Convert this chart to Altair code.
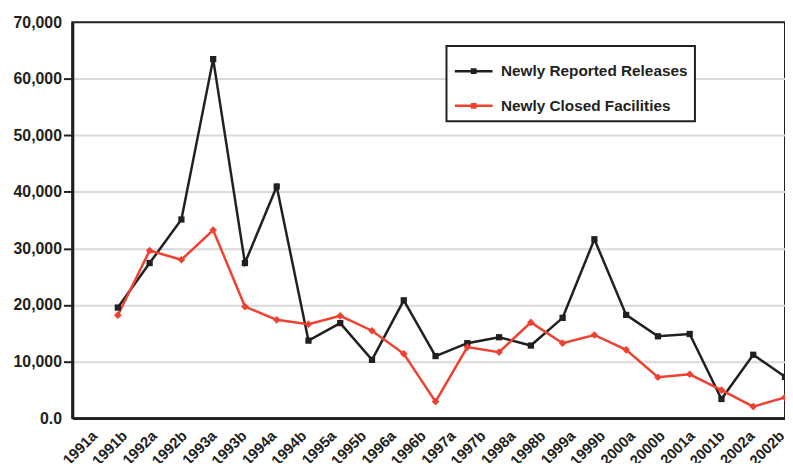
import altair as alt
import pandas as pd

# ---- data ----
periods = ["1991a", "1991b", "1992a", "1992b", "1993a", "1993b", "1994a", "1994b",
           "1995a", "1995b", "1996a", "1996b", "1997a", "1997b", "1998a", "1998b",
           "1999a", "1999b", "2000a", "2000b", "2001a", "2001b", "2002a", "2002b"]
point_index = list(range(22))
reported = [19550, 27420, 35120, 63470, 27420, 40950, 13700, 16800, 10300, 20830, 10970,
            13250, 14300, 12830, 17730, 31620, 18250, 14470, 14880, 3380, 11200, 7300]
closed = [18200, 29630, 28000, 33250, 19720, 17380, 16600, 18080, 15450, 11370, 2920,
          12550, 11670, 16920, 13250, 14700, 12080, 7230, 7750, 4950, 2040, 3670]
series_names = ["Newly Reported Releases", "Newly Closed Facilities"]
series_colors = ["#231f20", "#ef4130"]
y_ticks = [0, 10000, 20000, 30000, 40000, 50000, 60000, 70000]

FONT = "Liberation Sans, Arial, Helvetica, sans-serif"
DARK = "#231f20"

rows = []
for i, v in zip(point_index, reported):
    rows.append({"idx": i, "value": v, "series": series_names[0]})
for i, v in zip(point_index, closed):
    rows.append({"idx": i, "value": v, "series": series_names[1]})
df = pd.DataFrame(rows)

# In the source the period labels are spaced slightly tighter than the data points
# (24 labels across the span of 22 points); place them on the point axis accordingly.
label_start, label_step = -0.9, 0.9405
label_pos = [round(label_start + label_step * j, 4) for j in range(len(periods))]
label_array = "[" + ",".join("'%s'" % p for p in periods) + "]"
label_expr = "%s[round((datum.value - (%s)) / %s)]" % (label_array, label_start, label_step)

xs = alt.Scale(domain=[-1.433, 21], nice=False, zero=False)
ys = alt.Scale(domain=[0, 70000], nice=False)

sym_path = "M-1.12,0H1.12M-0.1,-0.1H0.1V0.1H-0.1Z"

x_axis = alt.Axis(
    values=label_pos, labelExpr=label_expr,
    labelAngle=-45, labelAlign="right", labelBaseline="top", labelPadding=10,
    ticks=False, labelFont=FONT, labelFontSize=15, labelFontWeight="bold",
    labelColor=DARK, labelOverlap=False, labelBound=False, labelFlush=False,
    domain=True, domainColor=DARK, domainWidth=3, grid=False, title=None,
)

y_axis = alt.Axis(
    values=y_ticks,
    labelExpr="datum.value == 0 ? '0.0' : format(datum.value, ',')",
    labelFont=FONT, labelFontSize=16, labelFontWeight="bold", labelColor=DARK,
    labelPadding=2, labelOverlap=False,
    tickSize=9, tickWidth=2,
    tickColor=alt.condition("datum.value == 0 || datum.value == 70000",
                            alt.value("transparent"), alt.value(DARK)),
    domain=True, domainColor=DARK, domainWidth=3,
    grid=True, gridWidth=2,
    gridColor=alt.condition("datum.value == 0 || datum.value == 70000",
                            alt.value("transparent"), alt.value("#d9d9d9")),
    title=None,
)

legend = alt.Legend(
    title=None, orient="none", legendX=378, legendY=24,
    padding=7, symbolOffset=2, labelOffset=9, rowPadding=8, labelLimit=0,
    symbolType=sym_path, symbolSize=1156, symbolStrokeWidth=2.5,
    labelFont=FONT, labelFontSize=15.5, labelFontWeight="bold", labelColor=DARK,
    strokeColor=DARK, fillColor="white",
)

cs = alt.Scale(domain=series_names, range=series_colors)

def base(show_legend):
    return alt.Chart(df).encode(
        x=alt.X("idx:Q", scale=xs, axis=x_axis),
        y=alt.Y("value:Q", scale=ys, axis=y_axis),
        color=alt.Color("series:N", scale=cs, sort=series_names,
                        legend=legend if show_legend else None),
    )

lines = base(True).mark_line(strokeWidth=2.5).encode(detail="series:N")
squares = base(False).transform_filter(
    alt.datum.series == series_names[0]
).mark_point(shape="square", filled=True, size=40, opacity=1)
diamonds = base(False).transform_filter(
    alt.datum.series == series_names[1]
).mark_point(shape="diamond", filled=True, size=60, opacity=1)

chart = alt.layer(
    lines, squares, diamonds
).properties(
    width=720, height=400,
    autosize=alt.AutoSizeParams(type="none"),
    padding={"left": 65, "top": 12, "right": 0, "bottom": 43},
).configure_view(
    stroke=DARK, strokeWidth=2
).configure_legend(
    strokeWidth=2
)

chart.save("out.html", embed_options={"renderer": "svg", "actions": False})
